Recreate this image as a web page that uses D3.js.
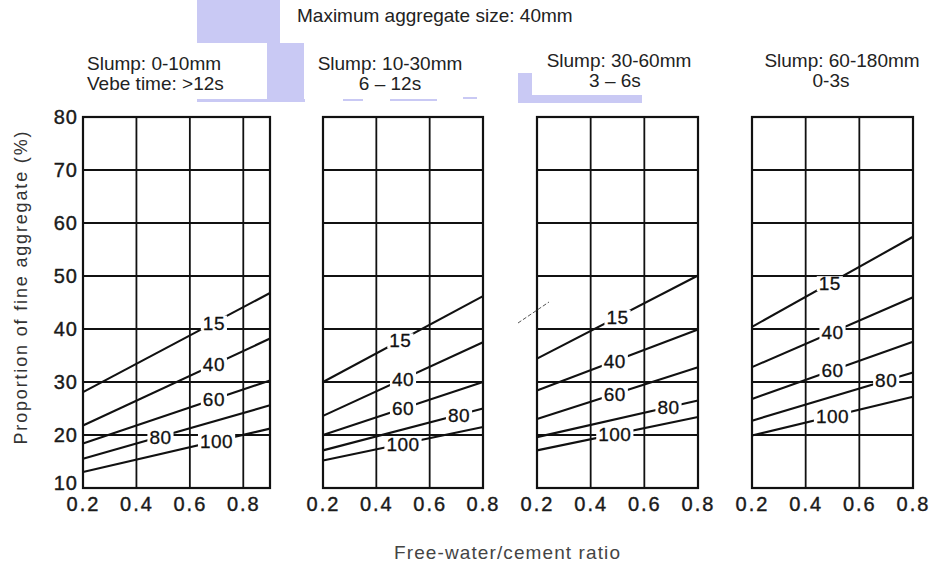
<!DOCTYPE html>
<html>
<head>
<meta charset="utf-8">
<script src="https://cdnjs.cloudflare.com/ajax/libs/d3/7.8.5/d3.min.js"></script>
<style>
  body { margin: 0; background: #fff; }
  svg { display: block; font-family: 'Liberation Sans', Arial, sans-serif; }
</style>
</head>
<body>
<div id="chart"></div>
<script>
let svgWidth = 929;
let svgHeight = 567;

// values
let yTicks = [10, 20, 30, 40, 50, 60, 70, 80];
let ratioTicks = [0.2, 0.4, 0.6, 0.8];
let curveNames = ['15', '40', '60', '80', '100'];
let ratioMax = [0.9, 0.8, 0.8, 0.8];

let panelHeaders = [
  ['Slump: 0-10mm', 'Vebe time: >12s'],
  ['Slump: 10-30mm', '6 \u2013 12s'],
  ['Slump: 30-60mm', '3 \u2013 6s'],
  ['Slump: 60-180mm', '0-3s']
];

// fine aggregate % at w/c 0.2 and at the right end of each panel, one per curve
let startValues = [
  [28.1, 21.8, 18.4, 15.5, 13.0],
  [30.0, 23.6, 20.0, 17.1, 15.2],
  [34.4, 28.4, 23.0, 19.6, 17.1],
  [40.4, 32.8, 26.8, 22.7, 19.9]
];
let endValues = [
  [46.8, 38.2, 30.3, 25.6, 21.2],
  [46.2, 37.5, 30.0, 25.0, 21.5],
  [50.1, 39.9, 32.8, 26.5, 23.4],
  [57.4, 46.0, 37.6, 31.8, 27.2]
];
// w/c ratio where each curve label sits
let labelAt = [
  [0.69, 0.69, 0.69, 0.49, 0.70],
  [0.49, 0.50, 0.50, 0.71, 0.50],
  [0.50, 0.49, 0.49, 0.69, 0.49],
  [0.49, 0.50, 0.50, 0.70, 0.50]
];

// layout
let panelX = [[83, 270], [323, 483], [537, 698], [752, 913]];
let plotTop = 117, plotBottom = 488;
let headerPos = [
  {anchor: 'start', x: [87, 87], y: [70, 90]},
  {anchor: 'middle', x: [390, 390], y: [70, 90]},
  {anchor: 'middle', x: [619, 615], y: [67, 87]},
  {anchor: 'middle', x: [842, 831], y: [67, 87]}
];

let svg = d3.select('#chart')
  .append('svg')
  .attr('width', svgWidth)
  .attr('height', svgHeight);

// lavender highlight marks left on the scanned figure
let marks = [
  [197, 0, 83, 43], [267, 43, 37, 58], [197, 99, 108, 3],
  [343, 99, 20, 2], [390, 99, 47, 2], [463, 97, 14, 2],
  [518, 73, 14, 30], [518, 95, 124, 8]
];
svg.selectAll('rect.mark')
  .data(marks)
  .enter()
  .append('rect')
  .attr('class', 'mark')
  .attr('x', d => d[0]).attr('y', d => d[1])
  .attr('width', d => d[2]).attr('height', d => d[3])
  .attr('fill', '#c9c9f4');

svg.append('text')
  .attr('x', 297)
  .attr('y', 22)
  .attr('font-size', 19)
  .attr('fill', '#222')
  .text('Maximum aggregate size: 40mm');

let yScale = d3.scaleLinear()
  .domain([10, 80])
  .range([plotBottom, plotTop]);

panelHeaders.forEach(function(lines, p) {
  let xScale = d3.scaleLinear()
    .domain([0.2, ratioMax[p]])
    .range(panelX[p]);

  let g = svg.append('g');

  // header
  lines.forEach(function(t, i) {
    g.append('text')
      .attr('x', headerPos[p].x[i])
      .attr('y', headerPos[p].y[i])
      .attr('text-anchor', headerPos[p].anchor)
      .attr('font-size', 19)
      .attr('fill', '#222')
      .text(t);
  });

  // grid
  g.selectAll('line.h')
    .data(yTicks)
    .enter()
    .append('line')
    .attr('x1', panelX[p][0]).attr('x2', panelX[p][1])
    .attr('y1', d => yScale(d)).attr('y2', d => yScale(d))
    .attr('stroke', '#111').attr('stroke-width', 1.8);

  g.selectAll('line.v')
    .data(ratioTicks.filter(d => d <= ratioMax[p]))
    .enter()
    .append('line')
    .attr('x1', d => xScale(d)).attr('x2', d => xScale(d))
    .attr('y1', plotTop).attr('y2', plotBottom)
    .attr('stroke', '#111').attr('stroke-width', 1.8);

  g.append('rect')
    .attr('x', panelX[p][0]).attr('y', plotTop)
    .attr('width', panelX[p][1] - panelX[p][0])
    .attr('height', plotBottom - plotTop)
    .attr('fill', 'none')
    .attr('stroke', '#111').attr('stroke-width', 2.2);

  // curves
  let line = d3.line()
    .x(d => xScale(d[0]))
    .y(d => yScale(d[1]));

  curveNames.forEach(function(name, i) {
    let pts = [[0.2, startValues[p][i]], [ratioMax[p], endValues[p][i]]];
    g.append('path')
      .attr('d', line(pts))
      .attr('fill', 'none')
      .attr('stroke', '#111')
      .attr('stroke-width', 2.1);
  });

  // curve labels with a white gap
  curveNames.forEach(function(name, i) {
    let lx = labelAt[p][i];
    let t = (lx - 0.2) / (ratioMax[p] - 0.2);
    let ly = startValues[p][i] + t * (endValues[p][i] - startValues[p][i]);
    let lbl = g.append('text')
      .attr('x', xScale(lx))
      .attr('y', yScale(ly))
      .attr('dy', '0.36em')
      .attr('text-anchor', 'middle')
      .attr('font-size', 19)
      .attr('letter-spacing', 0.5)
      .attr('fill', '#111')
      .attr('stroke', '#111')
      .attr('stroke-width', 0.3)
      .text(name);
    let bb = lbl.node().getBBox();
    g.insert('rect', function() { return lbl.node(); })
      .attr('x', bb.x - 2).attr('y', bb.y + 3)
      .attr('width', bb.width + 4).attr('height', bb.height - 6)
      .attr('fill', '#fff');
  });

  // x tick labels
  let xAxis = g.append('g')
    .attr('transform', `translate(0,${plotBottom})`)
    .call(d3.axisBottom(xScale).tickValues(ratioTicks).tickSize(0).tickPadding(9).tickFormat(d3.format('.1f')));
  xAxis.select('.domain').remove();
  xAxis.selectAll('text')
    .attr('font-size', 20)
    .attr('font-family', "'Liberation Sans', Arial, sans-serif")
    .attr('letter-spacing', 2)
    .attr('fill', '#1a1a1a')
    .attr('stroke', '#1a1a1a')
    .attr('stroke-width', 0.4);

  if (p === 0) {
    let yAxis = g.append('g')
      .attr('transform', `translate(${panelX[0][0]},0)`)
      .call(d3.axisLeft(yScale).tickValues(yTicks).tickSize(0).tickPadding(5));
    yAxis.select('.domain').remove();
    yAxis.selectAll('text')
      .attr('font-size', 20)
      .attr('font-family', "'Liberation Sans', Arial, sans-serif")
      .attr('letter-spacing', 1)
      .attr('fill', '#1a1a1a')
      .attr('stroke', '#1a1a1a')
      .attr('stroke-width', 0.4)
      .attr('dy', d => d === 10 ? '0.05em' : '0.32em');
  }
});

// stray pen stroke near the third panel
svg.append('line')
  .attr('x1', 518).attr('y1', 323).attr('x2', 549).attr('y2', 302)
  .attr('stroke', '#555').attr('stroke-width', 1)
  .attr('stroke-dasharray', '4,2');

svg.append('text')
  .attr('transform', 'translate(27,288) rotate(-90)')
  .attr('text-anchor', 'middle')
  .attr('font-size', 18)
  .attr('textLength', 313)
  .attr('lengthAdjust', 'spacing')
  .attr('fill', '#333')
  .text('Proportion of fine aggregate (%)');

svg.append('text')
  .attr('x', 507)
  .attr('y', 559)
  .attr('text-anchor', 'middle')
  .attr('font-size', 19)
  .attr('textLength', 226)
  .attr('lengthAdjust', 'spacing')
  .attr('fill', '#444')
  .text('Free-water/cement ratio');
</script>
</body>
</html>
